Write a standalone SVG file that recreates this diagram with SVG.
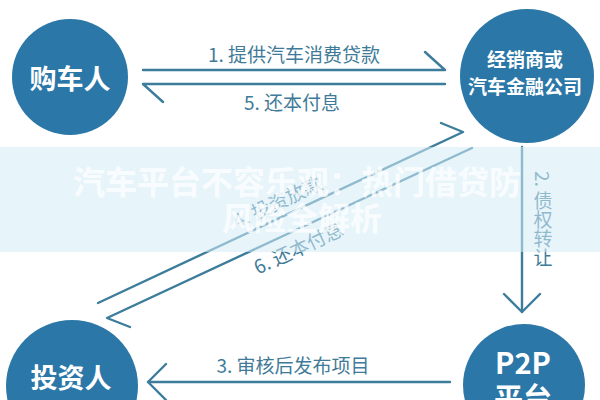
<svg xmlns="http://www.w3.org/2000/svg" width="600" height="400" viewBox="0 0 600 400">
  <defs>
    <style>
      .node { fill: #2b77a7; }
      .nt { fill: #ffffff; font-family: "Noto Sans CJK SC", "Noto Sans", sans-serif; font-weight: bold; text-anchor: middle; }
      .ln { stroke: #3d7d9c; stroke-width: 2.4; fill: none; stroke-linecap: round; stroke-linejoin: round; }
      .lbl { fill: #3f7b98; font-family: "Noto Sans CJK SC", "Noto Sans", sans-serif; font-size: 19px; text-anchor: middle; }
      .wm { fill: #ffffff; fill-opacity: 0.8; font-family: "Noto Sans CJK SC", sans-serif; font-weight: bold; font-size: 32px; text-anchor: middle; }
    </style>
  </defs>
  <rect width="600" height="400" fill="#ffffff"/>

  <g id="buyer">
    <circle class="node" cx="70" cy="77" r="58"/>
    <text class="nt" x="70" y="89" font-size="27">购车人</text>
  </g>
  <g id="dealer">
    <circle class="node" cx="527" cy="76" r="67"/>
    <text class="nt" x="525" y="67" font-size="19">经销商或</text>
    <text class="nt" x="525" y="94" font-size="19">汽车金融公司</text>
  </g>
  <g id="investor">
    <circle class="node" cx="72" cy="386" r="66"/>
    <text class="nt" x="71" y="388" font-size="27">投资人</text>
  </g>
  <g id="p2p">
    <circle class="node" cx="524" cy="385" r="61"/>
    <text class="nt" x="523" y="374" font-size="29">P2P</text>
    <text class="nt" x="523" y="409" font-size="29">平台</text>
  </g>

  <g id="connectors">
    <!-- 1 -->
    <path class="ln" d="M143 70 H445 L425 52"/>
    <text class="lbl" x="294" y="62">1. 提供汽车消费贷款</text>
    <!-- 5 -->
    <path class="ln" d="M445 84 H143 L163 102"/>
    <text class="lbl" x="292" y="110">5. 还本付息</text>
    <!-- 2 -->
    <path class="ln" d="M522 147 V312"/>
    <path class="ln" d="M504 294 L522 312 L540 294"/>
    <text class="lbl" x="543" y="171" style="writing-mode: vertical-rl; text-anchor: start;">2. 债权转让</text>
    <!-- 3 -->
    <path class="ln" d="M450 382 H148"/>
    <path class="ln" d="M166 364 L148 382 L166 400"/>
    <text class="lbl" x="293" y="373">3. 审核后发布项目</text>
    <!-- 4 -->
    <path class="ln" d="M98 303 L463 132 L441 123"/>
    <text class="lbl" transform="translate(278 203) rotate(-25)" x="0" y="6">4. 投资放款</text>
    <!-- 6 -->
    <path class="ln" d="M472 148 L107 318 L130 327"/>
    <text class="lbl" transform="translate(299 249) rotate(-25)" x="0" y="6">6. 还本付息</text>
  </g>

  <rect x="0" y="147" width="600" height="105" fill="#d3edf8" fill-opacity="0.55"/>
  <text class="wm" x="297" y="194">汽车平台不容乐观：热门借贷防</text>
  <text class="wm" x="302" y="230">风险全解析</text>
</svg>
